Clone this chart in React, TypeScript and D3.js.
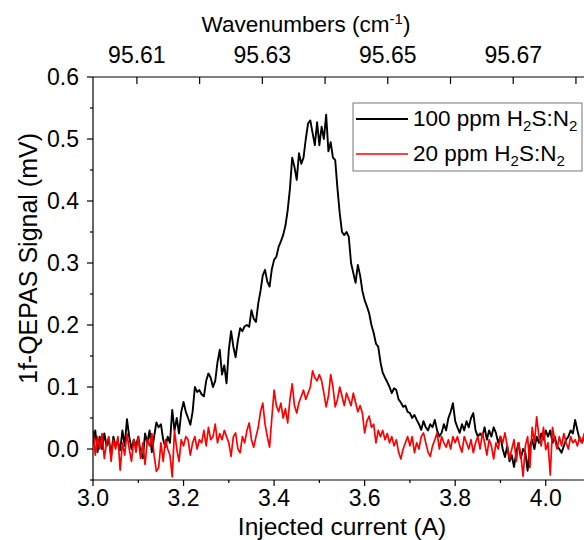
import React, { useEffect } from "react";
import * as d3 from "d3";

// sampling grid of the injected current (A)
const currentStart = 3.0;
const currentStep = 0.005;

// 100 ppm H2S:N2, 1f-QEPAS signal (mV), one value per 0.005 A from 3.000 A
const ppm100 = [
  0.01, 0.03, -0.005, 0.02, 0.0, 0.025, 0.005, 0.015, -0.01, 0.02, 0.005, 0.012, -0.002, 0.03, 0.005, 0.048, 0.02, 0.0, 0.015, 0.005,
  0.02, -0.005, -0.015, 0.025, 0.01, 0.03, -0.005, 0.02, 0.043, 0.035, 0.04, 0.015, 0.003, 0.02, 0.01, 0.063, 0.03, 0.05, 0.025, 0.06,
  0.076, 0.06, 0.05, 0.039, 0.06, 0.1, 0.092, 0.095, 0.088, 0.085, 0.11, 0.122, 0.115, 0.1, 0.11, 0.14, 0.16, 0.12, 0.135, 0.106,
  0.16, 0.19, 0.165, 0.148, 0.175, 0.195, 0.19, 0.198, 0.2, 0.197, 0.224, 0.21, 0.205, 0.235, 0.255, 0.28, 0.289, 0.27, 0.262, 0.29,
  0.305, 0.31, 0.326, 0.335, 0.345, 0.36, 0.385, 0.42, 0.47, 0.455, 0.434, 0.477, 0.46, 0.47, 0.5, 0.525, 0.53, 0.51, 0.49, 0.527,
  0.49, 0.52, 0.5, 0.539, 0.48, 0.495, 0.47, 0.466, 0.42, 0.38, 0.35, 0.345, 0.35, 0.342, 0.3, 0.284, 0.268, 0.297, 0.28, 0.255,
  0.24, 0.23, 0.219, 0.2, 0.187, 0.17, 0.165, 0.14, 0.123, 0.115, 0.108, 0.1, 0.09, 0.098, 0.095, 0.08, 0.075, 0.068, 0.07, 0.06,
  0.058, 0.05, 0.055, 0.047, 0.04, 0.031, 0.045, 0.035, 0.03, 0.04, 0.035, 0.047, 0.03, 0.02, 0.026, 0.04, 0.03, 0.05, 0.06, 0.074,
  0.045, 0.035, 0.026, 0.04, 0.03, 0.045, 0.035, 0.05, 0.058, 0.03, 0.02, 0.025, 0.02, 0.035, 0.015, 0.03, 0.02, 0.035, 0.026, 0.01,
  0.02, 0.0, -0.013, 0.005, -0.02, -0.01, -0.029, -0.005, 0.01, -0.015, 0.0, -0.006, -0.035, 0.005, 0.015, 0.0, 0.02, 0.01, 0.025, 0.015,
  0.03, 0.02, 0.03, 0.01, 0.02, 0.005, 0.0, -0.006, 0.005, 0.015, 0.02, 0.03, 0.025, 0.047, 0.03, 0.015, 0.01, 0.02, 0.005, 0.015,
  0.01,
];

// 20 ppm H2S:N2
const ppm20 = [
  0.03, -0.01, 0.02, 0.0, 0.025, -0.015, 0.01, 0.02, -0.02, 0.015, 0.0, 0.02, -0.034, 0.01, -0.01, 0.025, 0.0, -0.02, 0.015, -0.005,
  0.02, -0.015, 0.01, -0.025, 0.015, 0.005, 0.025, -0.01, -0.036, -0.03, 0.01, -0.02, 0.015, 0.0, -0.01, -0.045, 0.03, 0.0, -0.02, 0.015,
  0.005, 0.02, 0.015, -0.01, 0.01, 0.02, 0.0, 0.015, 0.01, 0.03, 0.005, 0.035, 0.015, 0.02, 0.04, 0.01, 0.025, 0.015, 0.03, 0.02,
  0.01, -0.012, 0.02, 0.026, 0.0, -0.006, 0.02, 0.01, 0.03, 0.042, 0.015, 0.003, 0.02, 0.035, 0.06, 0.074, 0.04, 0.02, 0.003, 0.05,
  0.095, 0.07, 0.06, 0.074, 0.05, 0.065, 0.042, 0.08, 0.105, 0.07, 0.058, 0.075, 0.085, 0.095, 0.08, 0.09, 0.1, 0.126, 0.115, 0.11,
  0.12, 0.11, 0.09, 0.068, 0.085, 0.12, 0.1, 0.068, 0.08, 0.1, 0.085, 0.07, 0.09, 0.08, 0.07, 0.09, 0.075, 0.06, 0.07, 0.058,
  0.026, 0.045, 0.053, 0.035, 0.04, 0.01, 0.03, 0.02, 0.03, 0.015, 0.025, 0.01, 0.02, 0.005, 0.015, -0.005, -0.016, 0.0, 0.01, 0.02,
  0.005, 0.02, -0.006, 0.01, 0.0, 0.02, 0.026, 0.01, -0.005, -0.012, 0.005, 0.015, 0.026, 0.0, 0.02, 0.01, 0.003, 0.015, 0.0, 0.02,
  0.01, 0.02, 0.005, -0.005, 0.02, 0.01, 0.0, 0.015, -0.006, 0.01, 0.02, 0.0, 0.026, 0.01, -0.01, 0.015, 0.005, -0.016, 0.01, 0.0,
  0.02, 0.01, 0.026, 0.005, -0.016, 0.0, 0.015, -0.02, 0.01, -0.01, -0.044, 0.005, 0.02, -0.03, 0.035, 0.01, 0.052, 0.02, 0.005, 0.035,
  -0.001, 0.01, -0.042, 0.035, 0.015, 0.0, 0.02, 0.005, 0.025, 0.01, 0.0, 0.02, 0.01, 0.015, 0.005, 0.02, 0.01, 0.025, 0.005, 0.015,
  0.01,
];

const currentTicks = [3.0, 3.2, 3.4, 3.6, 3.8, 4.0];
const currentMinor = [3.1, 3.3, 3.5, 3.7, 3.9];
const signalTicks = [0.0, 0.1, 0.2, 0.3, 0.4, 0.5, 0.6];
const signalMinor = [-0.05, 0.05, 0.15, 0.25, 0.35, 0.45, 0.55];
const waveTicks = [95.61, 95.63, 95.65, 95.67];
const waveMinor = [95.62, 95.64, 95.66, 95.68];

const font = "'Liberation Sans', Arial, sans-serif";

export default function App() {
  useEffect(() => {
    document.body.style.margin = "0";
  }, []);

  const left = 93, right = 591, top = 77, bottom = 480;
  const x = d3.scaleLinear().domain([3.0, 4.1]).range([left, right]);
  const y = d3.scaleLinear().domain([-0.05, 0.6]).range([bottom, top]);
  const xTop = d3.scaleLinear().domain([95.603, 95.6824]).range([left, right]);

  const line = d3.line<number>()
    .x((d, i) => x(currentStart + i * currentStep))
    .y(d => y(d));

  return (
    <svg width={584} height={540} style={{ display: "block", background: "#fff" }} fontFamily={font}>
      <defs>
        <clipPath id="plot">
          <rect x={left} y={top} width={right - left} height={bottom - top} />
        </clipPath>
      </defs>

      <g clipPath="url(#plot)" fill="none" strokeLinejoin="round">
        <path d={line(ppm100) ?? ""} stroke="#000" strokeWidth={1.9} />
        <path d={line(ppm20) ?? ""} stroke="#f00" strokeWidth={1.7} />
      </g>

      {/* axes frame */}
      <g stroke="#000" strokeWidth={1.2}>
        <line x1={left} x2={left} y1={top} y2={bottom} />
        <line x1={left} x2={right} y1={bottom} y2={bottom} />
        <line x1={left} x2={right} y1={top} y2={top} />
      </g>

      {/* bottom axis */}
      <g>
        {currentTicks.map(t => (
          <g key={t}>
            <line x1={x(t)} x2={x(t)} y1={bottom} y2={bottom + 6} stroke="#000" strokeWidth={1.2} />
            <text x={x(t)} y={506} fontSize={23} textAnchor="middle">{t.toFixed(1)}</text>
          </g>
        ))}
        {currentMinor.map(t => (
          <line key={t} x1={x(t)} x2={x(t)} y1={bottom} y2={bottom + 3} stroke="#000" strokeWidth={1.2} />
        ))}
        <text x={(left + right) / 2} y={535} fontSize={24.5} textAnchor="middle">Injected current (A)</text>
      </g>

      {/* left axis */}
      <g>
        {signalTicks.map(t => (
          <g key={t}>
            <line x1={left - 6} x2={left} y1={y(t)} y2={y(t)} stroke="#000" strokeWidth={1.2} />
            <text x={79} y={y(t)} dy="0.36em" fontSize={23} textAnchor="end">{t.toFixed(1)}</text>
          </g>
        ))}
        {signalMinor.map(t => (
          <line key={t} x1={left - 3} x2={left} y1={y(t)} y2={y(t)} stroke="#000" strokeWidth={1.2} />
        ))}
        <text transform={`translate(37, ${(top + bottom) / 2 - 20}) rotate(-90)`} fontSize={25} textAnchor="middle">
          1f-QEPAS Signal (mV)
        </text>
      </g>

      {/* top axis */}
      <g>
        {waveTicks.concat(waveMinor).map(t => (
          <line key={t} x1={xTop(t)} x2={xTop(t)} y1={top} y2={top + 7} stroke="#000" strokeWidth={1.2} />
        ))}
        {waveTicks.map(t => (
          <text key={t} x={xTop(t)} y={63} fontSize={23} textAnchor="middle">{t.toFixed(2)}</text>
        ))}
        <text x={306} y={32} fontSize={22.5} textAnchor="middle">
          Wavenumbers (cm<tspan dy={-8} fontSize={15}>-1</tspan><tspan dy={8}>)</tspan>
        </text>
      </g>

      {/* legend */}
      <g>
        <rect x={353} y={103} width={229} height={68} fill="#fff" stroke="#777" strokeWidth={1} />
        <line x1={356} x2={408} y1={119} y2={119} stroke="#000" strokeWidth={1.9} />
        <text x={413} y={126} fontSize={22.5}>
          100 ppm H<tspan dy={5} fontSize={15}>2</tspan><tspan dy={-5}>S:N</tspan><tspan dy={5} fontSize={15}>2</tspan>
        </text>
        <line x1={356} x2={408} y1={154} y2={154} stroke="#f00" strokeWidth={1.7} />
        <text x={413} y={161} fontSize={22.5}>
          20 ppm H<tspan dy={5} fontSize={15}>2</tspan><tspan dy={-5}>S:N</tspan><tspan dy={5} fontSize={15}>2</tspan>
        </text>
      </g>
    </svg>
  );
}
